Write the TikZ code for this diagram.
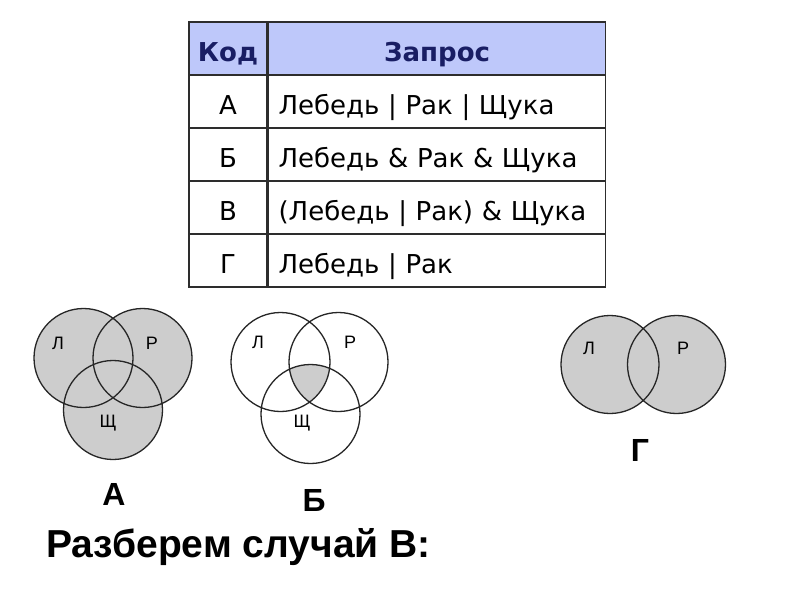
\documentclass[tikz,border=0pt]{standalone}
\usepackage{fontspec}
\setmainfont{Liberation Sans}
\newfontfamily\tablefont{DejaVu Sans}
\definecolor{headblue}{RGB}{190,200,250}
\definecolor{headtext}{RGB}{25,30,100}
\definecolor{linegray}{RGB}{45,45,45}
\definecolor{venngray}{RGB}{205,205,205}
\usetikzlibrary{positioning}

\begin{document}
\begin{tikzpicture}[x=1pt, y=-1pt,
  cell/.style={
    rectangle, draw=linegray, line width=1.6pt,
    minimum height=53pt, inner ysep=0pt,
    text height=26pt, text depth=0pt,
    font=\tablefont\fontsize{26}{30}\selectfont
  },
  codecell/.style={cell, minimum width=78pt, inner xsep=0pt},
  querycell/.style={cell, minimum width=337pt, inner xsep=10pt, text width=317pt, align=left},
  headcell/.style={fill=headblue, text=headtext,
    font=\tablefont\bfseries\fontsize{26}{30}\selectfont},
  venn/.style={draw=black!85, line width=1.3pt},
  setlabel/.style={font=\fontsize{18}{20}\selectfont},
  caselabel/.style={font=\bfseries\fontsize{32}{36}\selectfont}
]
\useasboundingbox[fill=white] (0,0) rectangle (800,600);

% table
\node[codecell, headcell]                 (kh) at (228,48.5)  {Код};
\node[querycell, headcell, align=center, right=0pt of kh] (qh) {Запрос};
\node[codecell]                           (ka) at (228,101.5) {А};
\node[querycell, right=0pt of ka]         (qa) {Лебедь | Рак | Щука};
\node[codecell]                           (kb) at (228,154.5) {Б};
\node[querycell, right=0pt of kb]         (qb) {Лебедь \& Рак \& Щука};
\node[codecell]                           (kv) at (228,207.5) {В};
\node[querycell, right=0pt of kv]         (qv) {(Лебедь | Рак) \& Щука};
\node[codecell]                           (kg) at (228,260.5) {Г};
\node[querycell, right=0pt of kg]         (qg) {Лебедь | Рак};

% case A
\fill[venngray] (83.5,358) circle[radius=49.5pt] (142.5,358) circle[radius=49.5pt]
  (113,410) circle[radius=49.5pt];
\draw[venn] (83.5,358) circle[radius=49.5pt] (142.5,358) circle[radius=49.5pt]
  (113,410) circle[radius=49.5pt];
\node[setlabel] (al) at (58,343)  {Л};
\node[setlabel] (ar) at (152,343) {Р};
\node[setlabel] (as) at (108,423) {Щ};
\node[caselabel] (acase) at (114,494.5) {А};

% case B
\begin{scope}
  \clip (280.5,362) circle[radius=49.5pt];
  \clip (338.5,362) circle[radius=49.5pt];
  \fill[venngray] (310.5,414) circle[radius=49.5pt];
\end{scope}
\draw[venn] (280.5,362) circle[radius=49.5pt] (338.5,362) circle[radius=49.5pt]
  (310.5,414) circle[radius=49.5pt];
\node[setlabel] (bl) at (258,342) {Л};
\node[setlabel] (br) at (350,342) {Р};
\node[setlabel] (bs) at (302,423) {Щ};
\node[caselabel] (bcase) at (314,500) {Б};

% case G
\fill[venngray] (610,364.5) circle[radius=49pt] (676.5,364.5) circle[radius=49pt];
\draw[venn] (610,364.5) circle[radius=49pt] (676.5,364.5) circle[radius=49pt];
\node[setlabel] (gl) at (589,348) {Л};
\node[setlabel] (gr) at (683,348) {Р};
\node[caselabel] (gcase) at (640,450) {Г};

\node[anchor=base west, inner sep=0pt, font=\bfseries\fontsize{39}{44}\selectfont]
  (title) at (46,557) {Разберем случай В:};
\end{tikzpicture}
\end{document}
